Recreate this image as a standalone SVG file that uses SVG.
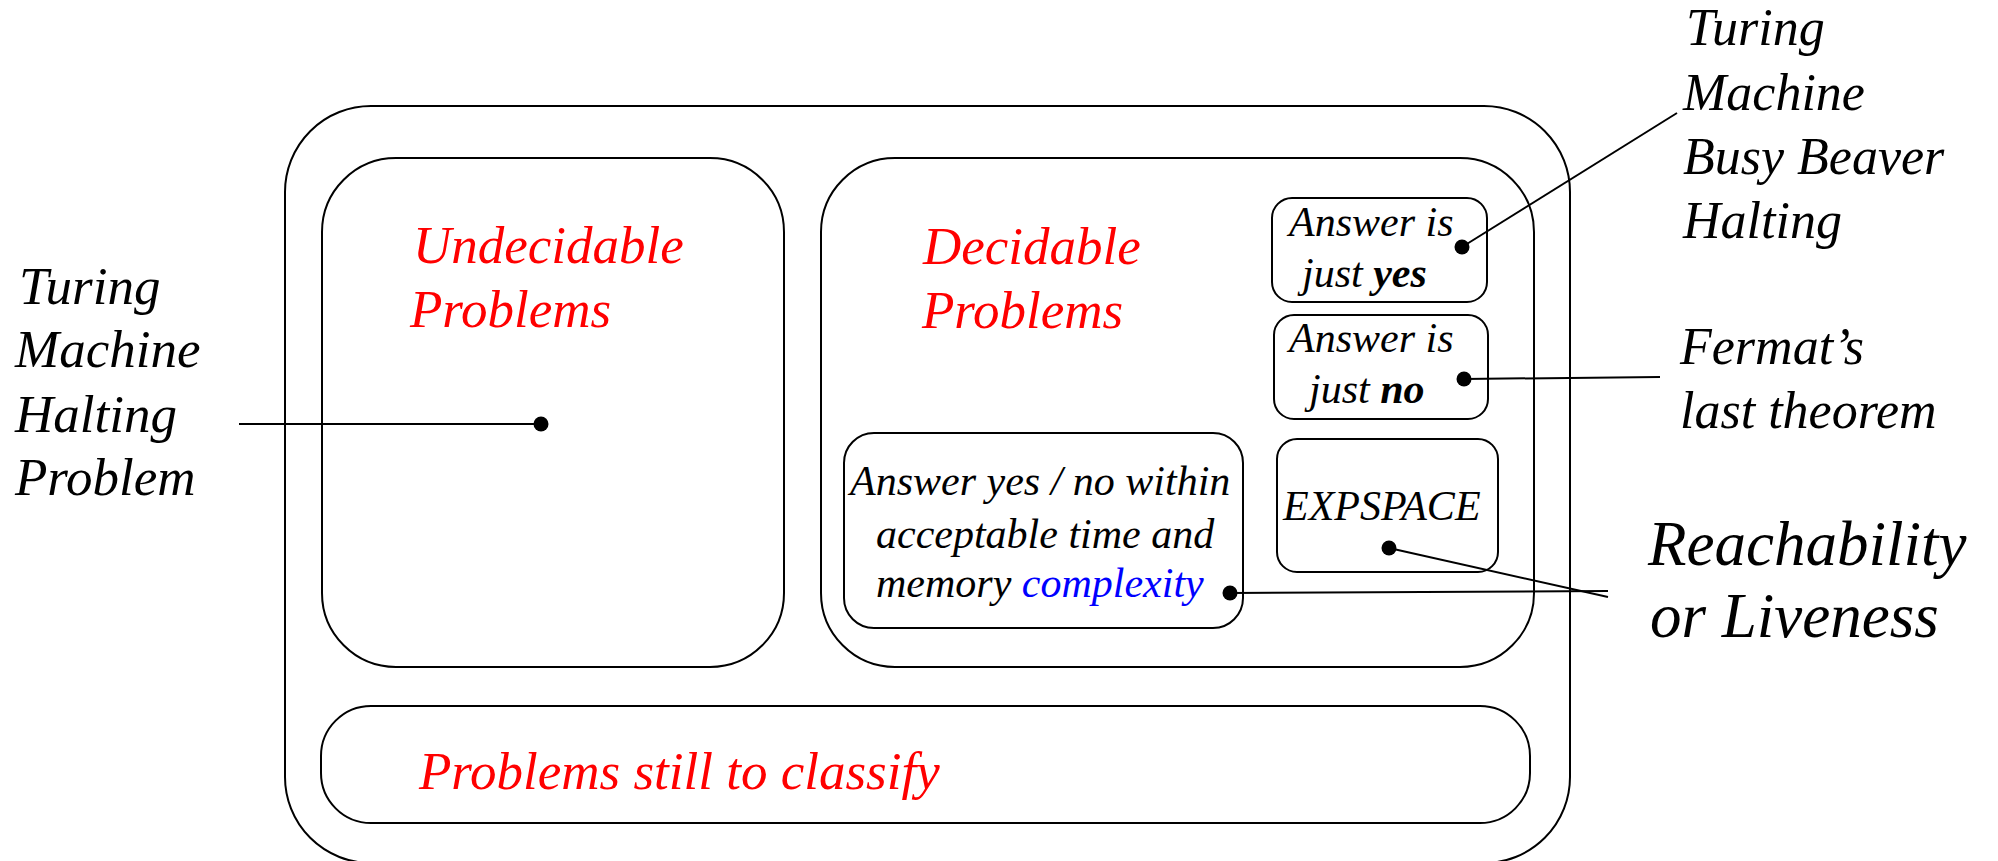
<svg xmlns="http://www.w3.org/2000/svg" width="1998" height="861" viewBox="0 0 1998 861">
<style>
.box{fill:none;stroke:#000;stroke-width:2}
.t{font-family:"Liberation Serif","Times New Roman",serif;font-style:italic}
.big{font-size:53px}
.red{fill:#FF0000}
.sm{font-size:42px;fill:#000}
.lbl{font-size:52px;fill:#000}
.b{font-weight:bold}
.ln{stroke:#000;stroke-width:2;fill:none}
.dot{fill:#000}
</style>
<rect width="1998" height="861" fill="#fff"/>
<g id="outer"><rect class="box" x="285" y="106" width="1285" height="757" rx="86" ry="86"/></g>
<g id="undecidable">
<rect class="box" x="322" y="158" width="462" height="509" rx="74" ry="74"/>
<text class="t big red" x="413" y="263">Undecidable</text>
<text class="t big red" x="410" y="327">Problems</text>
</g>
<g id="decidable">
<rect class="box" x="821" y="158" width="713" height="509" rx="74" ry="74"/>
<text class="t big red" x="923" y="264">Decidable</text>
<text class="t big red" x="922" y="328">Problems</text>
</g>
<g id="yes">
<rect class="box" x="1272" y="198" width="215" height="104" rx="20" ry="20"/>
<text class="t sm" x="1289" y="236">Answer is</text>
<text class="t sm" x="1302" y="287">just <tspan class="b">yes</tspan></text>
</g>
<g id="no">
<rect class="box" x="1274" y="315" width="214" height="104" rx="20" ry="20"/>
<text class="t sm" x="1289" y="352">Answer is</text>
<text class="t sm" x="1309" y="403">just <tspan class="b">no</tspan></text>
</g>
<g id="complexity">
<rect class="box" x="844" y="433" width="399" height="195" rx="30" ry="30"/>
<text class="t sm" x="850" y="495">Answer yes / no within</text>
<text class="t sm" x="876" y="548">acceptable time and</text>
<text class="t sm" x="876" y="597">memory <tspan fill="#0000FF">complexity</tspan></text>
</g>
<g id="expspace">
<rect class="box" x="1277" y="439" width="221" height="133" rx="20" ry="20"/>
<text class="t sm" x="1283" y="520">EXPSPACE</text>
</g>
<g id="toclassify">
<rect class="box" x="321" y="706" width="1209" height="117" rx="50" ry="50"/>
<text class="t big red" x="419" y="789">Problems still to classify</text>
</g>
<g id="label-halting">
<text class="t big" x="19" y="304">Turing</text>
<text class="t big" x="15" y="367">Machine</text>
<text class="t big" x="15" y="432">Halting</text>
<text class="t big" x="15" y="495">Problem</text>
</g>
<g id="label-busybeaver">
<text class="t lbl" x="1686" y="45">Turing</text>
<text class="t lbl" x="1683" y="110">Machine</text>
<text class="t lbl" x="1683" y="174">Busy Beaver</text>
<text class="t lbl" x="1683" y="238">Halting</text>
</g>
<g id="label-fermat">
<text class="t lbl" x="1680" y="364">Fermat’s</text>
<text class="t lbl" x="1680" y="428">last theorem</text>
</g>
<g id="label-reach">
<text class="t" font-size="63" x="1648" y="565">Reachability</text>
<text class="t" font-size="63" x="1650" y="637">or Liveness</text>
</g>
<g id="connectors">
<line class="ln" x1="239" y1="424" x2="541" y2="424"/>
<circle class="dot" cx="541" cy="424" r="7.5"/>
<line class="ln" x1="1462" y1="247" x2="1677" y2="113"/>
<circle class="dot" cx="1462" cy="247" r="7.5"/>
<line class="ln" x1="1464" y1="379" x2="1660" y2="377"/>
<circle class="dot" cx="1464" cy="379" r="7.5"/>
<line class="ln" x1="1230" y1="593" x2="1608" y2="591"/>
<circle class="dot" cx="1230" cy="593" r="7.5"/>
<line class="ln" x1="1389" y1="548" x2="1608" y2="597"/>
<circle class="dot" cx="1389" cy="548" r="7.5"/>
</g>
</svg>
